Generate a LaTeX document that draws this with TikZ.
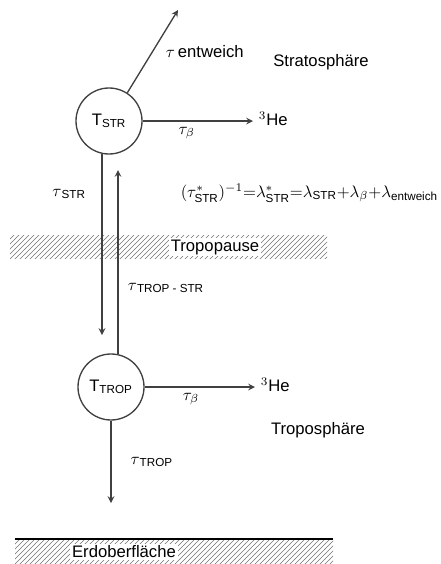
\documentclass[tikz,border=0pt]{standalone}
\usepackage{amsmath}
\usepackage{fontspec}
\setmainfont{Liberation Sans}
\usetikzlibrary{patterns}
\newcommand{\idx}[1]{\ensuremath{_{\text{#1}}}}

\begin{document}
\begin{tikzpicture}[>=stealth, x={(0.6pt,0pt)}, y={(0pt,-0.6pt)},
        reservoir/.style={draw=black!75, circle, minimum size=39.6pt, inner sep=0pt, line width=0.8pt},
        flow/.style={->, draw=black!75, line width=0.8pt},
        hatch/.style={pattern=north east lines, pattern color=black!55},
        layer/.style={fill=white, inner sep=1pt}]
        \useasboundingbox (0,0) rectangle (441,564);
        \fill[hatch] (10,235) rectangle (327,258);
        \fill[hatch] (15,539) rectangle (333,564);
        \draw[line width=1pt] (15,539) -- (333,539);
        \node[layer] (tropopause) at (215,247) {Tropopause};
        \node[layer] (erde) at (124,552) {Erdoberfläche};
        \node (strat) at (321,62) {Stratosphäre};
        \node (trop) at (318,430) {Troposphäre};
        \node[reservoir] (tstr) at (109,121) {T\idx{STR}};
        \node[reservoir] (ttrop) at (111,387) {T\idx{TROP}};
        \node[anchor=west] (he1) at (253,119) {$^3$He};
        \node[anchor=west] (he2) at (255,385) {$^3$He};
        \node[anchor=east, inner sep=1pt] (formel) at (440,193)
            {$(\tau^*\idx{STR})^{-1}{=}\lambda^*\idx{STR}{=}\lambda\idx{STR}{+}\lambda_\beta{+}\lambda\idx{entweich}$};
        \coordinate (escape) at (178,10);
        \coordinate (strend) at (102,335);
        \coordinate (tropup) at (117,170);
        \coordinate (ground) at (113,503);
        \draw[flow] (tstr.57) -- (escape);
        \node[anchor=west] (tesc) at (160,52) {$\tau$\,entweich};
        \draw[flow] (tstr.east) -- (tstr.east -| he1.west) node[pos=0.4, below] {$\tau_\beta$};
        \draw[flow] (ttrop.east) -- (ttrop.east -| he2.west) node[pos=0.42, below] {$\tau_\beta$};
        \draw[flow] (tstr.-102) -- (tstr.-102 |- strend) node[pos=0.22, left=6pt] {$\tau$\idx{STR}};
        \draw[flow] (ttrop.78) -- (ttrop.78 |- tropup);
        \node[anchor=west] (ttropstr) at (122,288) {$\tau$\idx{TROP - STR}};
        \draw[flow] (ttrop.south) -- (ttrop.south |- ground) node[pos=0.5, right=8pt] {$\tau$\idx{TROP}};
\end{tikzpicture}
\end{document}
